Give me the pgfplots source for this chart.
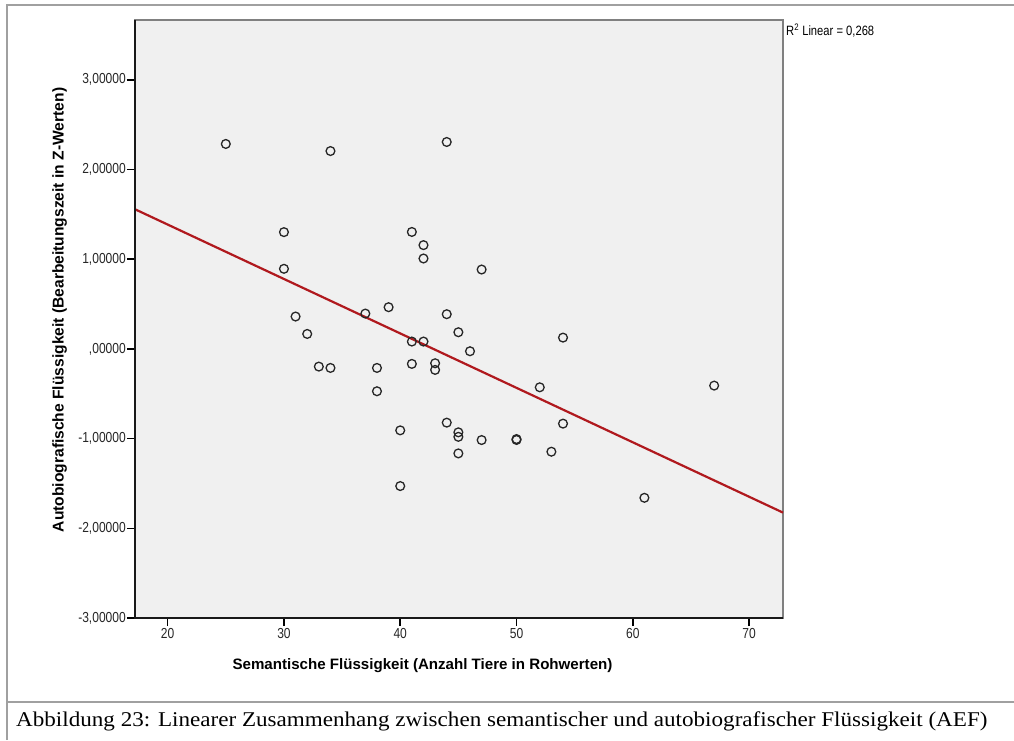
\documentclass[border=0pt]{standalone}
\usepackage{pgfplots}
\pgfplotsset{compat=1.18}
\usepackage{fontspec}
\setmainfont{Liberation Serif}
\newfontfamily\captionserif[FakeStretch=1.1]{Liberation Serif}
\newfontfamily\arial{Liberation Sans}
\newfontfamily\arialnarrow[FakeStretch=0.83]{Liberation Sans}

\definecolor{plotbg}{HTML}{F0F0F0}
\definecolor{fitred}{HTML}{B0191E}
\definecolor{framegray}{HTML}{A0A0A0}
\definecolor{boxgray}{HTML}{808080}

\begin{document}
\begin{tikzpicture}[x=1pt,y=1pt]
\useasboundingbox (0,0) rectangle (1014,740);
% table cell frame around figure and caption
\draw[framegray, line width=2pt] (6.7,0) -- (6.7,735.3) -- (1014,735.3);
\draw[framegray, line width=2pt] (6.7,38.3) -- (1014,38.3);

\begin{axis}[
  at={(135pt,122pt)}, anchor=south west,
  scale only axis, width=648pt, height=598pt,
  xmin=17.19, xmax=72.92, ymin=-3, ymax=3.667,
  axis background/.style={fill=plotbg},
  axis line style={draw=boxgray, line width=1.4pt},
  tick pos=left, tick align=outside, major tick length=8pt,
  every tick/.style={black, line width=1.6pt},
  xtick={20,30,...,70},
  xticklabels={20,30,40,50,60,70},
  ytick={-3,-2,...,3},
  yticklabels={{-3,00000},{-2,00000},{-1,00000},{,00000},{1,00000},{2,00000},{3,00000}},
  ticklabel style={font=\arialnarrow\fontsize{14.5}{15}\selectfont, text=black!85},
  yticklabel style={inner sep=1pt},
  xticklabel style={inner sep=2pt},
  clip=false,
]
% participants
\addplot[only marks, mark=o, mark size=4.4pt,
  mark options={line width=1.3pt, draw=black!85}] table {
x y
25 2.285
30 1.302
30 0.893
31 0.361
32 0.167
33 -0.197
34 -0.212
34 2.206
37 0.394
38 -0.212
38 -0.472
39 0.465
40 -0.908
40 -1.529
41 1.304
41 0.082
41 -0.167
42 1.157
42 1.008
42 0.082
43 -0.160
43 -0.234
44 2.307
44 0.387
44 -0.822
45 0.186
45 -0.930
45 -0.980
45 -1.165
46 -0.026
47 0.885
47 -1.016
50 -1.005
50 -1.015
52 -0.428
53 -1.146
54 0.126
54 -0.833
61 -1.660
67 -0.409
};
% linear fit
\addplot[fitred, line width=2.2pt] coordinates {(17.19,1.557) (72.92,-1.825)};
% dark left and bottom axis lines
\draw[black!90, line width=1.8pt] (rel axis cs:0,1) -- (rel axis cs:0,0) -- (rel axis cs:1,0);
\end{axis}

\node[anchor=base west, font=\arialnarrow\fontsize{13.5}{14}\selectfont, inner sep=0pt]
  at (786,704) {R\textsuperscript{2} Linear = 0,268};
\node[anchor=base, font=\arial\bfseries\fontsize{15.1}{16}\selectfont, inner sep=0pt]
  at (422.5,71) {Semantische Flüssigkeit (Anzahl Tiere in Rohwerten)};
\node[anchor=base, rotate=90, font=\arial\bfseries\fontsize{15.6}{16}\selectfont, inner sep=0pt]
  at (63.5,430) {Autobiografische Flüssigkeit (Bearbeitungszeit in Z-Werten)};
\node[anchor=base west, font=\captionserif\fontsize{21}{24}\selectfont, inner sep=0pt]
  at (16,13.3) {Abbildung 23: Linearer Zusammenhang zwischen semantischer und autobiografischer Flüssigkeit (AEF)};
\end{tikzpicture}
\end{document}
